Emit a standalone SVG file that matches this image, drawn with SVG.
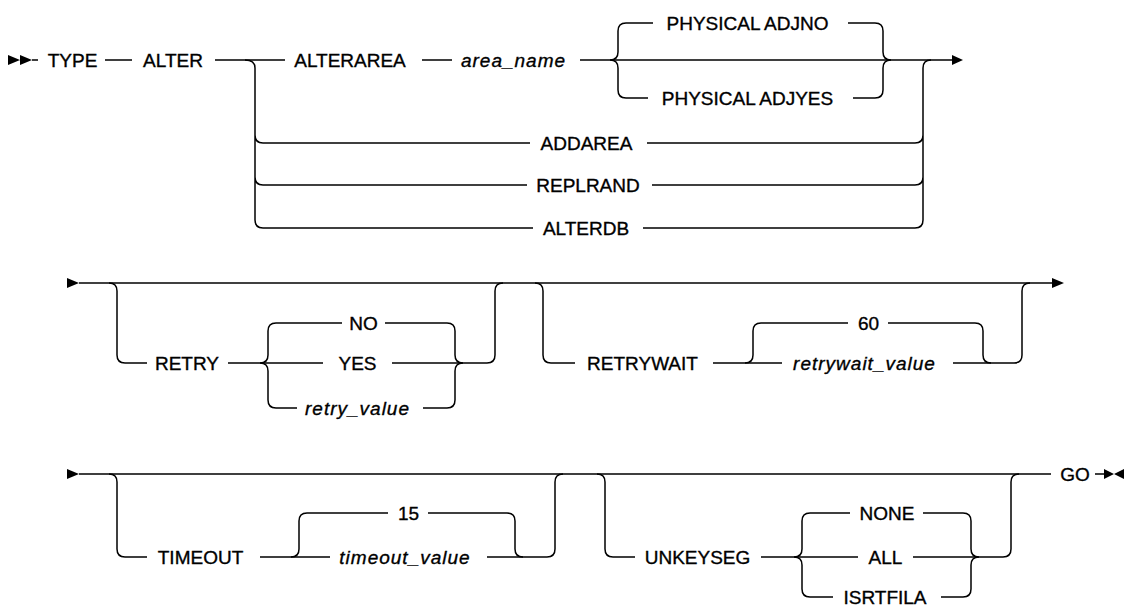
<svg xmlns="http://www.w3.org/2000/svg" width="1125" height="606" viewBox="0 0 1125 606">
<style>
.ln{fill:none;stroke:#000;stroke-width:1.5}
.ar{fill:#000;stroke:none}
.t{font-family:"Liberation Sans",Arial,sans-serif;font-size:19px;fill:#000;stroke:#000;stroke-width:0.35;text-anchor:middle}
.i{font-style:italic;letter-spacing:1px}
</style>
<rect width="1125" height="606" fill="#fff"/>
<g id="connectors">
<!-- row 1 -->
<path class="ar" d="M8,55 L20,60 L8,65 Z M20,55 L32,60 L20,65 Z"/>
<path class="ln" d="M32,60 H38 M105,60 H132 M215,60 H285 M422,60 H452 M580,60 H952"/>
<path class="ar" d="M952,55 L963,60 L952,65 Z"/>
<path class="ln" d="M245,60 Q255,60 255,68 V220 Q255,228 263,228 H533 M255,135 Q255,143 263,143 H530 M255,177 Q255,185 263,185 H527"/>
<path class="ln" d="M643,228 H915 Q923,228 923,220 V68 Q923,60 931,60 M647,143 H915 Q923,143 923,135 M652,185 H915 Q923,185 923,177"/>
<path class="ln" d="M610,60 Q618,60 618,52 V31 Q618,23 626,23 H653 M610,60 Q618,60 618,68 V90 Q618,98 626,98 H648"/>
<path class="ln" d="M848,23 H875 Q883,23 883,31 V52 Q883,60 891,60 M853,98 H875 Q883,98 883,90 V68 Q883,60 891,60"/>
<!-- row 2 -->
<path class="ar" d="M67,278 L79,283 L67,288 Z M1052,278 L1064,283 L1052,288 Z"/>
<path class="ln" d="M79,283 H1052"/>
<path class="ln" d="M109,283 Q117,283 117,291 V355 Q117,363 125,363 H147 M228,363 H323"/>
<path class="ln" d="M260,363 Q268,363 268,355 V331 Q268,323 276,323 H342 M260,363 Q268,363 268,371 V400 Q268,408 276,408 H297"/>
<path class="ln" d="M392,363 H487 Q495,363 495,355 V291 Q495,283 503,283"/>
<path class="ln" d="M385,323 H447 Q455,323 455,331 V355 Q455,363 463,363 M423,408 H447 Q455,408 455,400 V371 Q455,363 463,363"/>
<path class="ln" d="M535,283 Q543,283 543,291 V355 Q543,363 551,363 H575 M713,363 H782"/>
<path class="ln" d="M745,363 Q753,363 753,355 V331 Q753,323 761,323 H848 M888,323 H975 Q983,323 983,331 V355 Q983,363 991,363"/>
<path class="ln" d="M953,363 H1014 Q1022,363 1022,355 V291 Q1022,283 1030,283"/>
<!-- row 3 -->
<path class="ar" d="M67,469 L79,474 L67,479 Z"/>
<path class="ln" d="M79,474 H1051 M1095,474 H1104"/>
<path class="ln" d="M109,474 Q117,474 117,482 V549 Q117,557 125,557 H147 M260,557 H330"/>
<path class="ln" d="M291,557 Q299,557 299,549 V521 Q299,513 307,513 H388 M428,513 H507 Q515,513 515,521 V549 Q515,557 523,557"/>
<path class="ln" d="M487,557 H547 Q555,557 555,549 V482 Q555,474 563,474"/>
<path class="ln" d="M597,474 Q605,474 605,482 V549 Q605,557 613,557 H635 M761,557 H858"/>
<path class="ln" d="M794,557 Q802,557 802,549 V521 Q802,513 810,513 H850 M794,557 Q802,557 802,565 V589 Q802,597 810,597 H833"/>
<path class="ln" d="M913,557 H1003 Q1011,557 1011,549 V482 Q1011,474 1019,474"/>
<path class="ln" d="M923,513 H963 Q971,513 971,521 V549 Q971,557 979,557 M941,597 H963 Q971,597 971,589 V565 Q971,557 979,557"/>
<path class="ar" d="M1104,469 L1114,474 L1104,479 Z M1124,469 L1114,474 L1124,479 Z"/>
</g>
<g id="n-type"><text class="t" x="72.5" y="67">TYPE</text></g>
<g id="n-alter"><text class="t" x="173" y="67">ALTER</text></g>
<g id="n-alterarea"><text class="t" x="350" y="67">ALTERAREA</text></g>
<g id="n-area-name"><text class="t i" x="513.5" y="67">area_name</text></g>
<g id="n-adjno"><text class="t" x="747.5" y="30">PHYSICAL ADJNO</text></g>
<g id="n-adjyes"><text class="t" x="747.5" y="105">PHYSICAL ADJYES</text></g>
<g id="n-addarea"><text class="t" x="586.5" y="150">ADDAREA</text></g>
<g id="n-replrand"><text class="t" x="588" y="192">REPLRAND</text></g>
<g id="n-alterdb"><text class="t" x="586" y="235">ALTERDB</text></g>
<g id="n-retry"><text class="t" x="187" y="370">RETRY</text></g>
<g id="n-no"><text class="t" x="363.5" y="330">NO</text></g>
<g id="n-yes"><text class="t" x="357.5" y="370">YES</text></g>
<g id="n-retry-value"><text class="t i" x="357.5" y="415">retry_value</text></g>
<g id="n-retrywait"><text class="t" x="642.5" y="370">RETRYWAIT</text></g>
<g id="n-60"><text class="t" x="868.5" y="330">60</text></g>
<g id="n-retrywait-value"><text class="t i" x="864.5" y="370">retrywait_value</text></g>
<g id="n-timeout"><text class="t" x="200.5" y="564">TIMEOUT</text></g>
<g id="n-15"><text class="t" x="408.5" y="520">15</text></g>
<g id="n-timeout-value"><text class="t i" x="405" y="564">timeout_value</text></g>
<g id="n-unkeyseg"><text class="t" x="697.5" y="564">UNKEYSEG</text></g>
<g id="n-none"><text class="t" x="887" y="520">NONE</text></g>
<g id="n-all"><text class="t" x="885.5" y="564">ALL</text></g>
<g id="n-isrtfila"><text class="t" x="885" y="603.5">ISRTFILA</text></g>
<g id="n-go"><text class="t" x="1075" y="481">GO</text></g>
</svg>
